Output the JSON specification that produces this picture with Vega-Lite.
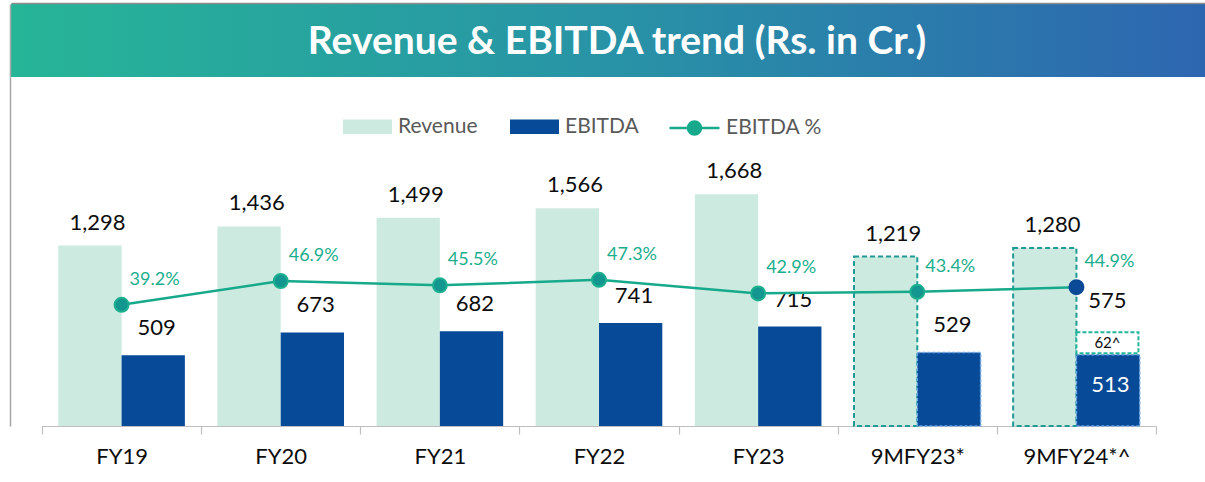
{
  "$schema": "https://vega.github.io/schema/vega-lite/v6.json",
  "padding": 0,
  "spacing": 0,
  "columns": 1,
  "align": "none",
  "bounds": "full",
  "background": "white",
  "config": {"view": {"stroke": null}, "font": "Lato"},
  "resolve": {"legend": {"fill": "independent", "stroke": "independent"}},
  "concat": [
    {
      "width": 1194,
      "height": 73,
      "data": {"values": [{"title": "Revenue & EBITDA trend (Rs. in Cr.)"}]},
      "view": {
        "stroke": null,
        "fill": {
          "gradient": "linear", "x1": 0, "x2": 1, "y1": 0, "y2": 0,
          "stops": [{"offset": 0, "color": "#26b597"}, {"offset": 0.5, "color": "#2893a6"}, {"offset": 1, "color": "#2d66b0"}]
        }
      },
      "mark": {"type": "text", "font": "Lato", "fontWeight": "bold", "fontSize": 39, "color": "#ffffff", "dx": 9, "dy": 1},
      "encoding": {
        "text": {"field": "title"},
        "x": {"datum": 0.5, "type": "quantitative", "scale": {"domain": [0, 1]},
              "axis": {"orient": "top", "domain": true, "domainColor": "#8c8c8c", "domainWidth": 1.5, "labels": false, "ticks": false, "grid": false, "title": null, "offset": 1, "minExtent": 3, "maxExtent": 3}},
        "y": {"datum": 0.5, "type": "quantitative", "scale": {"domain": [0, 1]},
              "axis": {"orient": "left", "domain": true, "domainColor": "#a6a6a6", "domainWidth": 1.5, "labels": false, "ticks": false, "grid": false, "title": null, "offset": 1, "minExtent": 10, "maxExtent": 10}}
      }
    },
    {
      "width": 1194,
      "height": 349,
      "data": {"values": [
        {"period": "FY19", "revenue": 1298, "ebitda": 509, "ebitda_base": 509, "margin": 0.392, "nine_month": false},
        {"period": "FY20", "revenue": 1436, "ebitda": 673, "ebitda_base": 673, "margin": 0.469, "nine_month": false},
        {"period": "FY21", "revenue": 1499, "ebitda": 682, "ebitda_base": 682, "margin": 0.455, "nine_month": false},
        {"period": "FY22", "revenue": 1566, "ebitda": 741, "ebitda_base": 741, "margin": 0.473, "nine_month": false},
        {"period": "FY23", "revenue": 1668, "ebitda": 715, "ebitda_base": 715, "margin": 0.429, "nine_month": false},
        {"period": "9MFY23*", "revenue": 1219, "ebitda": 529, "ebitda_base": 529, "margin": 0.434, "nine_month": true},
        {"period": "9MFY24*^", "revenue": 1280, "ebitda": 575, "ebitda_base": 513, "oneoff": 62, "oneoff_label": "62^", "margin": 0.449, "nine_month": true}
      ]},
      "encoding": {
        "x": {"field": "period", "type": "nominal", "sort": null,
              "scale": {"paddingInner": 0, "paddingOuter": 0, "range": [31, 1145]},
              "axis": {"title": null, "labelAngle": 0, "domainColor": "#bfbfbf", "domainWidth": 1.2, "tickColor": "#bfbfbf", "tickWidth": 1.2, "tickSize": 8, "tickBand": "extent", "labelFont": "Lato", "labelFontSize": 22, "labelColor": "#0d0d0d", "labelPadding": 12, "grid": false}}
      },
      "layer": [
        {
          "layer": [
            {
              "mark": {"type": "bar", "width": 63.3, "xOffset": -31.65},
              "encoding": {
                "y": {"field": "revenue", "type": "quantitative", "scale": {"domain": [0, 2511], "nice": false},
                      "axis": {"title": null, "domain": true, "domainColor": "#a6a6a6", "domainWidth": 1.5, "labels": false, "ticks": false, "grid": false, "offset": 1, "minExtent": 10, "maxExtent": 10}},
                "fill": {"datum": "Revenue", "type": "nominal",
                         "scale": {"domain": ["Revenue", "EBITDA"], "range": ["#cdeae1", "#074a98"]},
                         "legend": {"orient": "none", "legendX": 332, "legendY": 25, "direction": "horizontal", "title": null,
                                    "symbolType": "M-1,-0.3H1V0.3H-1Z", "symbolSize": 2401, "symbolStrokeWidth": 0,
                                    "labelFont": "Lato", "labelFontSize": 21, "labelColor": "#595959", "labelOffset": 6, "columnPadding": 32}}
              }
            },
            {
              "transform": [{"filter": "datum.nine_month"}],
              "mark": {"type": "bar", "width": 63.3, "xOffset": -31.65, "fill": "transparent", "stroke": "#1f9b94", "strokeWidth": 2, "strokeDash": [5, 3]},
              "encoding": {"y": {"field": "revenue", "type": "quantitative"}}
            },
            {
              "mark": {"type": "bar", "width": 63.3, "xOffset": 31.65},
              "encoding": {
                "y": {"field": "ebitda_base", "type": "quantitative"},
                "fill": {"datum": "EBITDA", "type": "nominal"}
              }
            },
            {
              "transform": [{"filter": "datum.nine_month"}],
              "mark": {"type": "bar", "width": 63.3, "xOffset": 31.65, "fill": "transparent", "stroke": "#6aa5e6", "strokeWidth": 1.5, "strokeDash": [3, 2]},
              "encoding": {"y": {"field": "ebitda_base", "type": "quantitative"}}
            },
            {
              "transform": [{"filter": "datum.oneoff"}],
              "mark": {"type": "point", "shape": "M-1,-0.34H1V0.34H-1Z", "size": 3844, "filled": true, "fill": "#ffffff", "opacity": 1, "stroke": "#22b59a", "strokeWidth": 2, "strokeDash": [4, 2], "xOffset": 31, "yOffset": -12},
              "encoding": {"y": {"field": "ebitda_base", "type": "quantitative"}}
            },
            {
              "mark": {"type": "text", "fontSize": 22, "font": "Lato", "color": "#0d0d0d", "dx": -24, "dy": -23},
              "encoding": {"y": {"field": "revenue", "type": "quantitative"}, "text": {"field": "revenue", "type": "quantitative", "format": ","}}
            },
            {
              "transform": [{"filter": "!datum.oneoff"}],
              "mark": {"type": "text", "fontSize": 22, "font": "Lato", "color": "#0d0d0d", "dx": 35, "dy": -27},
              "encoding": {"y": {"field": "ebitda_base", "type": "quantitative"}, "text": {"field": "ebitda", "type": "quantitative", "format": ","}}
            },
            {
              "transform": [{"filter": "datum.oneoff"}],
              "mark": {"type": "text", "fontSize": 22, "font": "Lato", "color": "#0d0d0d", "dx": 31, "dy": -54},
              "encoding": {"y": {"field": "ebitda_base", "type": "quantitative"}, "text": {"field": "ebitda", "type": "quantitative", "format": ","}}
            },
            {
              "transform": [{"filter": "datum.oneoff"}],
              "mark": {"type": "text", "fontSize": 22, "font": "Lato", "color": "#ffffff", "dx": 34, "dy": 30},
              "encoding": {"y": {"field": "ebitda_base", "type": "quantitative"}, "text": {"field": "ebitda_base", "type": "quantitative", "format": ","}}
            },
            {
              "transform": [{"filter": "datum.oneoff"}],
              "mark": {"type": "text", "fontSize": 15, "font": "Lato", "color": "#0d0d0d", "dx": 31, "dy": -12},
              "encoding": {"y": {"field": "ebitda_base", "type": "quantitative"}, "text": {"field": "oneoff_label"}}
            }
          ]
        },
        {
          "layer": [
            {
              "mark": {"type": "line", "strokeWidth": 2.5},
              "encoding": {
                "y": {"field": "margin", "type": "quantitative", "scale": {"domain": [0, 1.129], "nice": false}, "axis": null},
                "stroke": {"datum": "EBITDA %", "type": "nominal", "scale": {"range": ["#17a98b"]},
                           "legend": {"orient": "none", "legendX": 657, "legendY": 24.5, "title": null,
                                      "symbolType": "M-1,0H1M0.26,0A0.26,0.26 0 1,1 -0.26,0A0.26,0.26 0 1,1 0.26,0Z",
                                      "symbolSize": 2500, "symbolStrokeWidth": 2.5, "symbolFillColor": "#17a98b", "symbolStrokeColor": "#17a98b",
                                      "labelFont": "Lato", "labelFontSize": 21, "labelColor": "#595959", "labelOffset": 5}}
              }
            },
            {
              "mark": {"type": "point", "filled": true, "size": 196, "opacity": 1, "strokeWidth": 2},
              "encoding": {
                "y": {"field": "margin", "type": "quantitative"},
                "fill": {"condition": {"test": "datum.oneoff", "value": "#0a4a96"}, "value": "#12968f"},
                "stroke": {"condition": {"test": "datum.oneoff", "value": "#0a4a96"}, "value": "#1db08f"}
              }
            },
            {
              "mark": {"type": "text", "fontSize": 18, "font": "Lato", "color": "#1aae8e", "dx": 33, "dy": -25},
              "encoding": {"y": {"field": "margin", "type": "quantitative"}, "text": {"field": "margin", "type": "quantitative", "format": ".1%"}}
            }
          ]
        }
      ],
      "resolve": {"scale": {"y": "independent"}}
    }
  ]
}
